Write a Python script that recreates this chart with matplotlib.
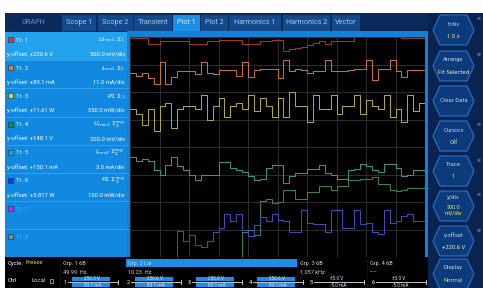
import numpy as np
import matplotlib
matplotlib.use('Agg')
import matplotlib.pyplot as plt
from matplotlib.patches import Rectangle, Polygon

plt.rcParams['font.family'] = ['Roboto', 'DejaVu Sans']

# ---- data ----
tabs = ['GRAPH', 'Scope 1', 'Scope 2', 'Transient', 'Plot 1', 'Plot 2',
        'Harmonics 1', 'Harmonics 2', 'Vector']
trace_names = ['Tr. 1', 'Tr. 2', 'Tr. 3', 'Tr. 4', 'Tr. 5', 'Tr. 6', 'Tr. 7', 'Tr. 8']
trace_items = [r'$U_{rms1}\ \Sigma_1$', r'$I_{rms1}\ \Sigma_1$', r'$P1\ \Sigma_1$',
               r'$U_{rms2}\ \Sigma_2^{avg}$', r'$I_{rms2}\ \Sigma_2^{avg}$',
               r'$P2\ \Sigma_2^{avg}$']
y_offsets = ['+220.6 V', '+83.1 mA', '+11.61 W', '+148.1 V', '+150.1 mA', '+5.817 W']
y_divs = ['500.0 mV/div', '11.0 mA/div', '550.0 mW/div', '200.0 mV/div',
          '3.0 mA/div', '100.0 mW/div']
swatch = ['#e8382c', '#f07a30', '#c8d42a', '#1f8a3c', '#2aa6a0', '#1c3ce0',
          '#d42ad0', '#8a8a78']
line_colors = ['#a83a24', '#c8783c', '#b8ac3c', '#3c8a48', '#3c9a8a', '#4a4ac4']

# step levels in divisions (0 = bottom, 8 = top), one per 0.2 div
tr1 = [7.95, 7.95, 7.95, 7.75, 7.75, 7.85, 7.85, 7.85, 7.85, 7.85,
       7.75, 7.75, 7.75, 7.85, 7.85, 7.9, 7.9, 7.9, 7.9, 7.75,
       7.75, 7.75, 7.85, 7.85, 7.9, 7.9, 7.5, 7.55, 7.6, 7.65,
       7.7, 7.8, 7.85, 7.75, 7.85, 7.85, 7.85, 7.85, 8.3, 8.3,
       8.3, 8.3, 8.3, 8.3, 8.3, 8.3, 7.95, 7.95, 7.95, 7.95]
tr2 = [6.7, 6.6, 6.7, 6.5, 6.3, 7.1, 6.3, 6.55, 6.75, 6.75,
       6.75, 6.65, 7.1, 6.7, 6.65, 6.8, 6.8, 6.8, 6.6, 7.1,
       6.55, 6.8, 6.85, 6.85, 6.85, 6.5, 7.15, 6.75, 6.85, 6.8,
       6.7, 6.75, 6.75, 7.15, 6.75, 6.75, 6.78, 6.8, 6.83, 6.85,
       7.15, 6.45, 6.85, 6.85, 7.15, 6.75, 6.55, 6.8, 6.8, 6.8]
tr3 = [5.4, 5.2, 4.8, 5.4, 4.6, 5.5, 5.6, 4.7, 5.4, 5.5,
       5.5, 5.4, 5.9, 5.0, 5.5, 5.8, 5.1, 5.5, 5.6, 5.4,
       5.9, 5.3, 5.8, 5.5, 5.1, 5.8, 5.1, 6.0, 5.5, 5.5,
       4.9, 5.9, 5.4, 5.4, 5.9, 5.2, 5.5, 5.5, 5.9, 5.2,
       5.7, 5.5, 5.4, 5.9, 5.1, 5.4, 4.9, 5.9, 5.3, 5.6]
tr4 = [-0.5, -0.5, -0.5, -0.5, -0.5, -0.5, -0.5, -0.5, -0.5, -0.5,
       -0.5, -0.5, -0.5, -0.5, -0.5, -0.5, -0.5, -0.5, -0.5, 0.9,
       1.0, 0.8, 2.05, 2.1, 1.95, 2.0, 2.45, 2.45, 2.1, 2.1,
       2.35, 2.35, 2.6, 2.6, 2.45, 2.6, 2.6, 2.8, 2.8, 2.85,
       2.85, 2.9, 2.65, 2.65, 2.45, 2.4, 2.45, 2.5, 2.5, 2.5]
tr5 = [3.65, 3.5, 3.55, 3.5, 3.15, 3.0, 3.35, 3.65, 3.3, 3.15,
       3.0, 2.8, 3.0, 3.0, 3.0, 3.45, 3.45, 3.25, 3.15, 3.1,
       2.95, 2.8, 2.85, 3.25, 3.35, 3.35, 2.7, 2.95, 3.05, 3.05,
       3.2, 3.2, 3.35, 3.05, 3.0, 2.85, 2.85, 3.15, 3.2, 3.4,
       3.3, 3.15, 3.1, 3.4, 3.4, 3.25, 2.95, 3.0, 3.15, 3.15]
tr6 = [-0.5, -0.5, -0.5, -0.5, -0.5, -0.5, -0.5, -0.5, 0.95, 0.6,
       0.8, 0.45, 0.35, 0.6, 0.9, 1.05, 1.55, 1.3, 1.55, 1.0,
       0.75, 1.15, 1.45, 1.3, 1.55, 1.35, 1.3, 0.9, 0.9, 1.7,
       1.25, 1.2, 1.2, 0.9, 1.7, 1.7, 1.05, 1.05, 1.7, 1.2,
       1.25, 0.9, 0.85, 1.7, 1.25, 1.3, 1.5, 1.55, 1.3, 1.3]
traces = [tr1, tr2, tr3, tr4, tr5, tr6]

buttons = [('t/div', '1.0 s'), ('Arrange', 'Fit Selected'), ('Clear Data', ''),
           ('Cursors', 'Off'), ('Trace', '1'), ('y/div', '500.0\nmV/div'),
           ('y-offset', '+220.6 V'), ('Display', 'Normal')]
groups = [('Grp. 1 6B', '49.99  Hz'), ('Grp. 2 Lar', '10.23  Hz'),
          ('Grp. 3 6B', '1.057 kHz'), ('Grp. 4 6B', '-----')]
ranges_u = ['250.3 V', '250.6 V', '250.0 V', '250.6 V', '±5.0 V', '±5.0 V']
ranges_i = ['83.1 mA', '83.1 mA', '83.1 mA', '83.1 mA', '-5.0 mA', '-5.0 mA']

# ---- screen chrome (pixel coordinates) ----
fig = plt.figure(figsize=(4.83, 2.88), dpi=100)
fig.patch.set_facecolor('white')
ui = fig.add_axes([0, 0, 1, 1])
ui.set_xlim(0, 483)
ui.set_ylim(288, 0)
ui.axis('off')

# tab bar
ui.add_patch(Rectangle((5, 13), 423, 19, color='#0b2a5a', lw=0))
tab_x = [(5, 62), (62, 96), (98, 133), (134, 172), (173, 200), (201, 228),
         (229, 281), (283, 330), (332, 360)]
for name, (x0, x1) in zip(tabs, tab_x):
    if name == 'GRAPH':
        ui.text((x0 + x1) / 2, 23, name, color='#7a92b8', fontsize=5.2,
                ha='center', va='center')
        continue
    fc = '#1c8ee6' if name == 'Plot 1' else '#124a8c'
    tc = '#d8ecff' if name == 'Plot 1' else '#a8c6e8'
    hgt = 20 if name == 'Plot 1' else 16
    ui.add_patch(Rectangle((x0, 15), x1 - x0, hgt, color=fc, lw=0))
    ui.text((x0 + x1) / 2, 23, name, color=tc, fontsize=5.2,
            ha='center', va='center')

# right panel
ui.add_patch(Rectangle((428, 13), 55, 275, color='#0a2452', lw=0))
btn_y = [30, 66, 101, 136, 171, 206, 241, 274]
for (lab, val), cy in zip(buttons, btn_y):
    h = 15
    pts = [(433, cy), (440, cy - h), (467, cy - h), (474, cy),
           (467, cy + h), (440, cy + h)]
    ui.add_patch(Polygon(pts, closed=True, fc='#0d3a7a', ec='#2a72cc', lw=0.8))
    if val == '':
        ui.text(453.5, cy, lab, color='#b8d4f0', fontsize=4.2, ha='center', va='center')
    elif '\n' in val:
        ui.text(453.5, cy - 8, lab, color='#b8d4f0', fontsize=4.2, ha='center', va='center')
        ui.text(453.5, cy + 4, val, color='#e4e070', fontsize=4.0, ha='center',
                va='center', linespacing=1.1)
    else:
        vc = '#c8e848' if lab == 'Display' else '#e8e8b0'
        ui.text(453.5, cy - 6, lab, color='#b8d4f0', fontsize=4.2, ha='center', va='center')
        ui.text(453.5, cy + 6, val, color=vc, fontsize=4.2, ha='center', va='center')
    if lab != 'Clear Data' and lab != 'Display':
        ui.text(479, cy - 11, '✲', color='#8ab0e0', fontsize=3.5, ha='center', va='center',
                family=['DejaVu Sans'])

# left trace panel
ui.add_patch(Rectangle((5, 32), 123, 225, color='#1189e0', lw=0))
ui.add_patch(Rectangle((5, 32), 123, 28, color='#22a2ee', lw=0))
for k in range(1, 8):
    ui.plot([5, 128], [32 + 28.2 * k, 32 + 28.2 * k], color='#3aa4ee', lw=0.6)
for k, name in enumerate(trace_names):
    ty = 40 + 28.2 * k
    ui.add_patch(Rectangle((8, ty - 3), 5, 5, fc=swatch[k], ec='#0a3060', lw=0.4))
    tc = 'white' if k < 6 else '#4ab0f6'
    ui.text(16, ty, name, color=tc, fontsize=4.4, va='center')
    if k < 6:
        ui.text(125, ty, trace_items[k], color='white', fontsize=4.6,
                ha='right', va='center')
        ui.text(7, ty + 14, 'y-offset: ' + y_offsets[k], color='white',
                fontsize=4.2, va='center')
        ui.text(125, ty + 14, y_divs[k], color='white', fontsize=4.2,
                ha='right', va='center')

# plot frame
ui.add_patch(Rectangle((128, 31), 300, 6, color='#1580d8', lw=0))
ui.add_patch(Rectangle((127, 31), 3, 226, color='#1580d8', lw=0))
ui.add_patch(Rectangle((425, 31), 3, 226, color='#1580d8', lw=0))

# bottom status bar
ui.add_patch(Rectangle((5, 257), 423, 31, color='black', lw=0))
ui.text(8, 264, 'Cycle:', color='white', fontsize=4.2, va='center')
ui.text(26, 263, 'Freeze', color='#e4e048', fontsize=4.2, va='center')
ui.text(8, 281, 'Ctrl', color='white', fontsize=4.2, va='center')
ui.text(31, 281, 'Local', color='#e8e8c8', fontsize=4.2, va='center')
ui.add_patch(Rectangle((50, 279), 3, 4, fc='none', ec='#c0c0c0', lw=0.5))
grp_x = [63, 128, 300, 370]
ui.add_patch(Rectangle((126, 259), 171, 8, color='#1c8ee8', lw=0))
for (g, f), gx in zip(groups, grp_x):
    gc = '#b0dcff' if 'Lar' in g else '#d0d0d0'
    ui.text(gx, 263, g, color=gc, fontsize=4.0, va='center')
    ui.text(gx, 272, f, color='#d0d0d0', fontsize=4.0, va='center')
for gx in [60, 297, 367]:
    ui.plot([gx, gx], [259, 287], color='#303030', lw=0.6, ls=':')
slider_x = [64, 127, 188, 249, 310, 372]
for k, sx in enumerate(slider_x):
    ui.text(sx, 282, str(k + 1), color='white', fontsize=4.0, va='center')
    ui.plot([sx + 4, sx + 54], [282, 282], color='#e0e0e0', lw=0.6)
    ui.plot([sx + 54, sx + 54], [280, 284], color='#e0e0e0', lw=0.6)
    if k < 4:
        ui.add_patch(Rectangle((sx + 8, 277), 38, 4, color='#1c8ee8', lw=0))
        ui.add_patch(Rectangle((sx + 8, 283), 38, 4, color='#1c8ee8', lw=0))
    ui.text(sx + 20, 278.5, ranges_u[k], color='#cfe8ff', fontsize=3.4, va='center')
    ui.text(sx + 20, 285.5, ranges_i[k], color='#cfe8ff', fontsize=3.4, va='center')

# ---- the plot itself ----
ax = fig.add_axes([130 / 483, (288 - 257) / 288, 295 / 483, 220 / 288])
ax.set_facecolor('black')
ax.set_xlim(0, 10)
ax.set_ylim(0, 8)
ax.set_xticks(range(11))
ax.set_yticks(range(9))
ax.tick_params(length=0, labelbottom=False, labelleft=False)
ax.grid(True, color='#363636', lw=0.6)
for s in ax.spines.values():
    s.set_visible(False)

t = np.arange(51) * 0.2
for vals, c in zip(traces, line_colors):
    ax.step(t, vals + vals[-1:], where='post', color=c, lw=0.7)

fig.savefig('out.png', dpi=100)
